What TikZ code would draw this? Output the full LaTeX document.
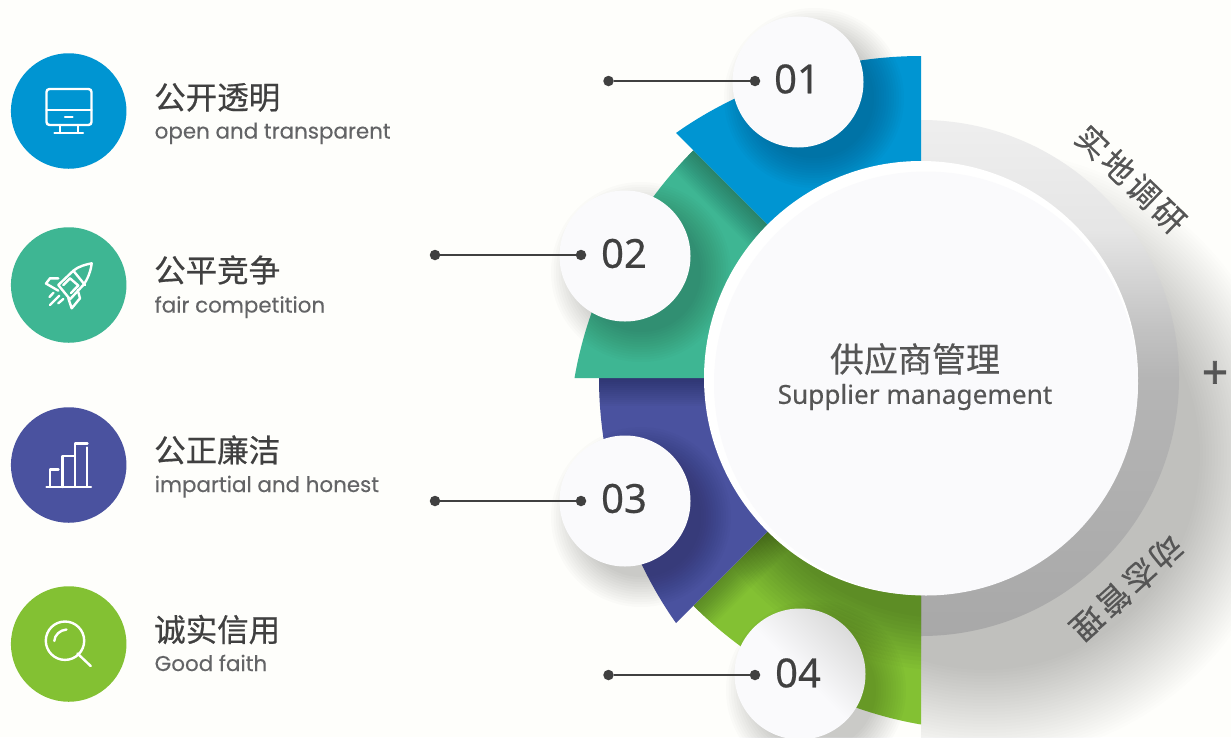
\documentclass[tikz,border=0pt]{standalone}
\usepackage{fontspec}
\setmainfont{Noto Sans}
\newfontfamily\cjk[FakeBold=0.6]{Noto Sans CJK SC}
\newfontfamily\cjkthin[FakeBold=0.3]{Noto Sans CJK SC}
\newfontfamily\pop[FakeBold=0.25]{Poppins}
\newfontfamily\nsans[FakeBold=0.5]{Noto Sans}
\newfontfamily\nsansthin[FakeBold=0.25]{Noto Sans}
\newfontfamily\plusfont[FakeBold=1.6]{Noto Sans}
\definecolor{bgc}{HTML}{FEFEFB}
\definecolor{cblue}{HTML}{0095D2}
\definecolor{cgreen}{HTML}{3EB693}
\definecolor{cindigo}{HTML}{4A529F}
\definecolor{clime}{HTML}{83C133}
\definecolor{ink}{HTML}{404040}
\definecolor{subink}{HTML}{636466}
\definecolor{graytext}{HTML}{555555}
\definecolor{face}{HTML}{FAFAFC}
\pgfdeclareverticalshading{ringshade}{100bp}{
  color(0bp)=(white!66!black);
  color(25bp)=(white!66!black);
  color(50bp)=(white!71!black);
  color(54.6bp)=(white!76!black);
  color(64.3bp)=(white!90!black);
  color(75bp)=(white!93.5!black);
  color(100bp)=(white!93.5!black)}
\tikzset{
  sectorp/.style={insert path={(921,56) .. controls (835,56) and (745,84) .. (676,133) -- (921,378) -- cycle}},
  badge/.style={circle,minimum size=115.5pt,inner sep=0pt,fill=#1},
  numdisc/.style={circle,minimum size=131pt,inner sep=0pt,fill=face},
  numtext/.style={font=\nsans\fontsize{40}{40}\selectfont,text=ink,inner sep=0pt},
  dotend/.style={circle,fill=ink,minimum size=10.5pt,inner sep=0pt},
  leader/.style={draw=ink,line width=2.4pt},
  title/.style={anchor=base west,inner sep=0pt,font=\cjk\fontsize{31.5}{32}\selectfont,text=ink},
  subtitle/.style={anchor=base west,inner sep=0pt,font=\pop\fontsize{21.4}{22}\selectfont,text=subink},
  icon/.style={draw=white,line width=2.4pt,line cap=round,line join=round},
  arctext/.style={inner sep=0pt,font=\cjkthin\fontsize{32}{32}\selectfont,text=graytext}
}
\newcommand{\softcircle}[6]{%
  \foreach \r in {#3,#4,...,#5} {\fill[black,opacity=#6] (#1,#2) circle[radius=\r pt];}}
\newcommand{\sectorlayer}[3]{%
  \begin{scope}[rotate around={#1:(921,378)}]
    \begin{scope}
      \clip[sectorp];
      \fill[#2] (640,30) rectangle (940,400);
      \foreach \d in {2,4,...,28} {\fill[black,opacity=#3] (921-\d,30) rectangle (921,400);}
    \end{scope}
  \end{scope}}
\begin{document}
\begin{tikzpicture}[x=1pt,y=-1pt]
\useasboundingbox (0,0) rectangle (1231,737);
\fill[bgc] (0,0) rectangle (1231,737);
% long soft shadow
\begin{scope}
  \clip (921,0) rectangle (1231,737);
  \softcircle{985}{455}{305}{302}{215}{0.007}
\end{scope}
% grey half ring
\begin{scope}
  \clip (921,0) rectangle (1231,737);
  \shade[shading=ringshade] (921,378) circle[radius=258pt];
\end{scope}
% sectors, lowest first
\sectorlayer{135}{clime}{0.018}
\begin{scope}[rotate around={135:(921,378)}]
  \clip[sectorp];
  \begin{scope}[rotate around={-135:(921,378)}]
    \softcircle{945}{400}{270}{266}{215}{0.02}
  \end{scope}
\end{scope}
\sectorlayer{90}{cindigo}{0.018}
\sectorlayer{45}{cgreen}{0.018}
\sectorlayer{0}{cblue}{0}
% shadows of the number discs
\softcircle{814}{98}{90}{87.5}{60}{0.017}
\softcircle{641}{272}{90}{87.5}{60}{0.017}
\softcircle{641}{517}{90}{87.5}{60}{0.017}
\softcircle{816}{690}{90}{87.5}{60}{0.017}
% central disc
\node[circle,minimum size=434pt,inner sep=0pt,fill=white] (hub) at (921,378) {};
\node[circle,minimum size=424pt,inner sep=0pt,fill=face] (hubface) at (926,383.5) {};
\node[inner sep=0pt,font=\cjkthin\fontsize{34}{34}\selectfont,text=graytext] (hubcn) at (915,359) {供应商管理};
\node[inner sep=0pt,font=\nsansthin\fontsize{26.2}{27}\selectfont,text=graytext] (huben) at (915,397) {Supplier management};
% number discs
\node[numdisc] (n1) at (798,82) {};
\node[numdisc] (n2) at (625,256) {};
\node[numdisc] (n3) at (625,501) {};
\node[circle,minimum size=131pt,inner sep=0pt,top color=white!86!black,bottom color=face,middle color=face,shading angle=-45] (n4) at (800,674) {};
\node[numtext] (t1) at (797,79) {01};
\node[numtext] (t2) at (624,253.5) {02};
\node[numtext] (t3) at (624,498.5) {03};
\node[numtext] (t4) at (798,673) {04};
% connectors
\node[dotend] (a1) at (608.5,81) {}; \node[dotend] (b1) at (755,81) {};
\node[dotend] (a2) at (435,255) {}; \node[dotend] (b2) at (581,255) {};
\node[dotend] (a3) at (435,501) {}; \node[dotend] (b3) at (581,501) {};
\node[dotend] (a4) at (608.5,675) {}; \node[dotend] (b4) at (755,675) {};
\draw[leader] (a1) -- (b1);
\draw[leader] (a2) -- (b2);
\draw[leader] (a3) -- (b3);
\draw[leader] (a4) -- (b4);
% arc texts and plus
\node[arctext,rotate=-44] (arc1) at (1131,179) {实\kern3.5pt 地\kern3.5pt 调\kern3.5pt 研};
\node[arctext,rotate=-138] (arc2) at (1127,588) {动\kern3.5pt 态\kern3.5pt 管\kern3.5pt 理};
\node[inner sep=0pt,font=\plusfont\fontsize{46}{46}\selectfont,text=graytext] (plus) at (1215,375) {+};
% badges
\node[badge=cblue] (i1) at (68.7,111) {};
\node[badge=cgreen] (i2) at (68.7,285) {};
\node[badge=cindigo] (i3) at (68.7,465) {};
\node[badge=clime] (i4) at (68.7,644) {};
% monitor icon
\draw[icon,rounded corners=3pt] (46.5,89) rectangle (91.5,125);
\draw[icon] (46.5,110) -- (91.5,110);
\draw[icon] (65,117) -- (72.5,117);
\draw[icon] (60,125) -- (60,133) (78,125) -- (78,133) (54.5,133) -- (83,133);
% rocket icon
\draw[icon] (58.3,285) -- (73.3,270.7) .. controls (79,266) and (86,264.5) .. (91.7,263.3) .. controls (91,270) and (88,279) .. (83.3,285) -- (70,299.3) -- cycle;
\draw[icon] (73.3,270.7) -- (85,285);
\draw[icon] (63.3,285) -- (70,278.3) -- (78.3,285.5) -- (71,293);
\draw[icon] (58.3,278.3) -- (50,278.3) -- (46,283.5) -- (58.3,290.7);
\draw[icon] (77.7,290) -- (80,298.3) -- (71.7,308.3) -- (68.3,298.3);
\draw[icon] (49.5,297) -- (53.5,292.7) (50,305) -- (59.3,295.7) (58.3,303.3) -- (63.3,299);
% bars icon
\draw[icon] (46.5,487) -- (91,487);
\draw[icon] (50,487) -- (50,469.5) -- (58.5,469.5);
\draw[icon] (62.5,487) -- (62.5,456) -- (73.5,456);
\draw[icon] (75,487) -- (75,443.5) -- (87.5,443.5);
\draw[icon] (87,447.5) -- (87,487);
% magnifier icon
\draw[icon] (65,640.7) circle[radius=19.2pt];
\draw[icon] (77.5,653.5) -- (90.7,666);
\draw[icon] (54.3,641) .. controls (54.5,635) and (60,630) .. (66.5,629.5);
% labels
\node[title] (l1) at (154,109) {公开透明};
\node[subtitle] (s1) at (154.5,138.5) {open and transparent};
\node[title] (l2) at (154,282) {公平竞争};
\node[subtitle] (s2) at (154.5,312.5) {fair competition};
\node[title] (l3) at (154,462) {公正廉洁};
\node[subtitle] (s3) at (154.5,492) {impartial and honest};
\node[title] (l4) at (154,641.5) {诚实信用};
\node[subtitle] (s4) at (154.5,671) {Good faith};
\end{tikzpicture}
\end{document}
